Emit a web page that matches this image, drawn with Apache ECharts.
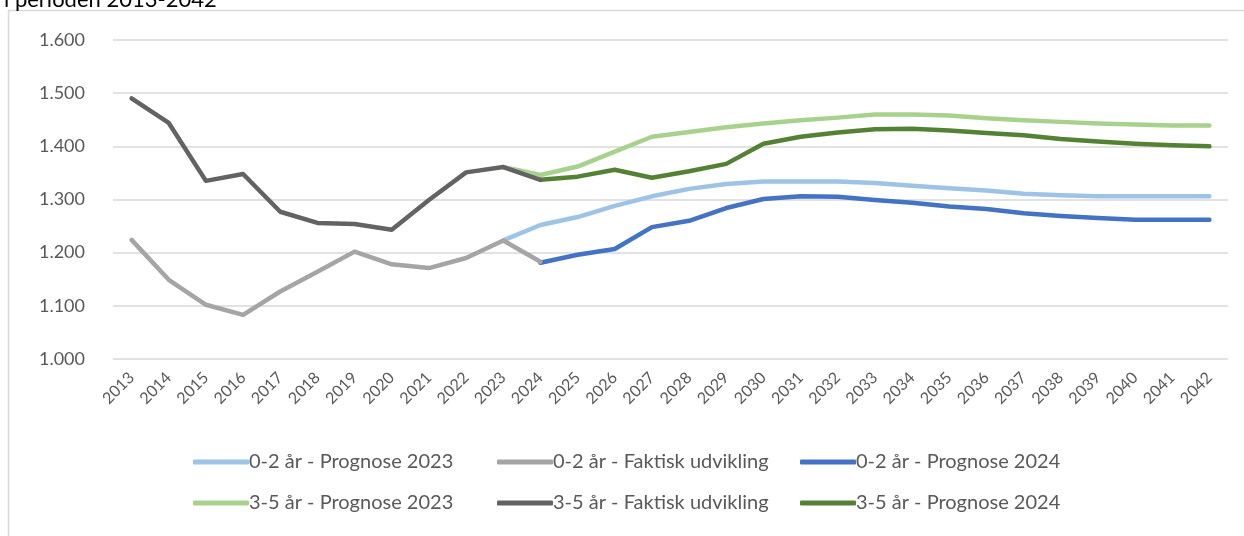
<!DOCTYPE html>
<html>
<head>
<meta charset="utf-8">
<script src="https://cdn.jsdelivr.net/npm/echarts@6/dist/echarts.min.js"></script>
<style>
  html, body { margin: 0; padding: 0; background: #fff; }
  #chart { width: 1244px; height: 536px; }
</style>
</head>
<body>
<div id="chart"></div>
<script>
var years = [];
for (var y = 2013; y <= 2042; y++) years.push(String(y));

var yTicks = [1000, 1100, 1200, 1300, 1400, 1500, 1600];

var seriesNames = [
  '0-2 år - Prognose 2023', '0-2 år - Faktisk udvikling', '0-2 år - Prognose 2024',
  '3-5 år - Prognose 2023', '3-5 år - Faktisk udvikling', '3-5 år - Prognose 2024'
];
var seriesColors = ['#9DC3E6', '#A5A5A5', '#4472C4', '#A9D18E', '#636363', '#548235'];

var n = null;
var prog23_02 = [n, n, n, n, n, n, n, n, n, n,
  1223, 1252, 1267, 1288, 1306, 1320, 1329, 1334, 1334, 1334,
  1331, 1326, 1321, 1317, 1311, 1308, 1306, 1306, 1306, 1306];
var faktisk02 = [1224, 1149, 1102, 1083, 1127, 1164, 1202, 1178, 1171, 1190,
  1223, 1183, n, n, n, n, n, n, n, n,
  n, n, n, n, n, n, n, n, n, n];
var prog24_02 = [n, n, n, n, n, n, n, n, n, n,
  n, 1181, 1196, 1207, 1248, 1260, 1284, 1301, 1306, 1305,
  1299, 1294, 1287, 1282, 1274, 1269, 1265, 1262, 1262, 1262];
var prog23_35 = [n, n, n, n, n, n, n, n, n, n,
  1361, 1346, 1362, 1390, 1418, 1427, 1436, 1443, 1449, 1454,
  1460, 1460, 1458, 1453, 1449, 1446, 1443, 1441, 1439, 1439];
var faktisk35 = [1490, 1444, 1335, 1348, 1277, 1256, 1254, 1243, 1299, 1351,
  1361, 1337, n, n, n, n, n, n, n, n,
  n, n, n, n, n, n, n, n, n, n];
var prog24_35 = [n, n, n, n, n, n, n, n, n, n,
  n, 1337, 1343, 1356, 1341, 1353, 1367, 1405, 1418, 1426,
  1432, 1433, 1430, 1425, 1421, 1414, 1409, 1405, 1402, 1400];

var seriesData = [prog23_02, faktisk02, prog24_02, prog23_35, faktisk35, prog24_35];
// forecasts first, actual lines on top
var drawOrder = [0, 3, 2, 5, 1, 4];

var chart = echarts.init(document.getElementById('chart'));

var font = 'Lato, "Open Sans", sans-serif';

// one vertical legend per column, like the Excel layout
function legendCol(left, names) {
  return {
    orient: 'vertical',
    left: left,
    top: 452,
    padding: 0,
    itemGap: 21,
    itemWidth: 56,
    itemHeight: 5,
    icon: 'roundRect',
    data: names,
    textStyle: { color: '#595959', fontSize: 20, fontFamily: font, padding: [0, 0, 0, -5] }
  };
}

var option = {
  animation: false,
  graphic: [
    {
      type: 'rect',
      shape: { x: 8.5, y: 10.5, width: 1300, height: 600 },
      style: { fill: 'none', stroke: '#D9D9D9', lineWidth: 1.5 }
    },
    {
      type: 'text',
      x: 4, y: -11,
      style: { text: 'i perioden 2013-2042', font: '22px ' + font, fill: '#000' }
    }
  ],
  legend: [
    legendCol(193, [seriesNames[0], seriesNames[3]]),
    legendCol(497, [seriesNames[1], seriesNames[4]]),
    legendCol(800, [seriesNames[2], seriesNames[5]])
  ],
  grid: { left: 113, right: 16, top: 40, bottom: 177 },
  xAxis: {
    type: 'category',
    data: years,
    boundaryGap: true,
    axisLine: { show: false },
    axisTick: { show: false },
    axisLabel: {
      rotate: 45,
      color: '#595959',
      fontSize: 16,
      fontFamily: font,
      margin: 16,
      interval: 0
    }
  },
  yAxis: {
    type: 'value',
    min: yTicks[0],
    max: yTicks[yTicks.length - 1],
    interval: 100,
    axisLine: { show: false },
    axisTick: { show: false },
    splitLine: { lineStyle: { color: '#D9D9D9', width: 1.5 } },
    axisLabel: {
      color: '#595959',
      fontSize: 18,
      fontFamily: font,
      margin: 28,
      formatter: function (v) { return (v / 1000).toFixed(3); }
    }
  },
  series: drawOrder.map(function (i) {
    return {
      name: seriesNames[i],
      type: 'line',
      data: seriesData[i],
      symbol: 'none',
      color: seriesColors[i],
      lineStyle: { width: 4.5, color: seriesColors[i], cap: 'round', join: 'round' }
    };
  })
};

chart.setOption(option);
window.addEventListener('resize', function () { chart.resize(); });
</script>
</body>
</html>
